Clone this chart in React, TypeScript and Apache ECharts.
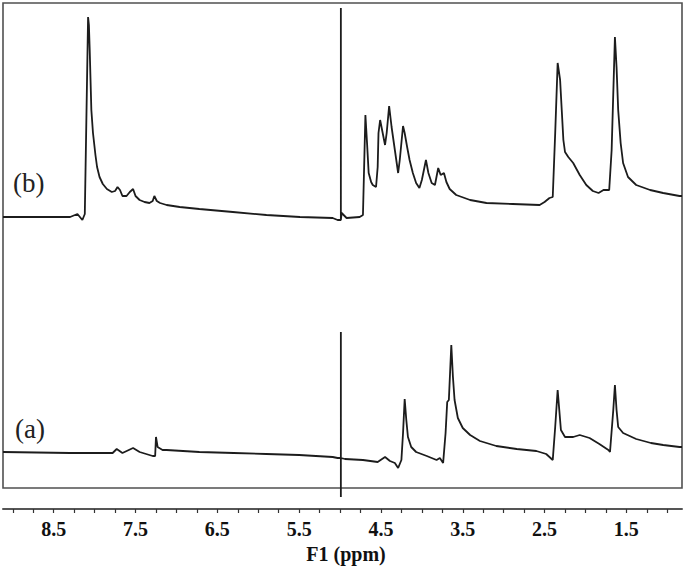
import React, { useEffect, useRef } from "react";
import * as echarts from "echarts";

// x-axis range (ppm, reversed)
const X_MIN = 0.82;
const X_MAX = 9.12;
const TICK_LABELS = [8.5, 7.5, 6.5, 5.5, 4.5, 3.5, 2.5, 1.5];
const TICK_MARKS = [
  9.0, 8.75, 8.5, 8.25, 8.0, 7.75, 7.5, 7.25, 7.0, 6.75, 6.5, 6.25, 6.0, 5.75,
  5.5, 5.25, 5.0, 4.75, 4.5, 4.25, 4.0, 3.75, 3.5, 3.25, 3.0, 2.75, 2.5, 2.25,
  2.0, 1.75, 1.5, 1.25, 1.0,
];
const AXIS_NAME = "F1 (ppm)";
const TRACE_LABELS = ["(a)", "(b)"];

// spectrum (a): [ppm, intensity]
const SPECTRUM_A: [number, number][] = [
  [9.12, 0], [8.3, -1], [7.78, -1], [7.73, 3], [7.66, -1], [7.53, 4],
  [7.45, 0], [7.29, -4], [7.26, -4], [7.25, 15], [7.23, 5], [7.17, 2],
  [7.12, 2], [6.72, 0], [6.3, -1], [5.9, -2], [5.5, -3], [5.09, -5],
  [5.03, -6], [4.99, -6], [4.99, 120], [4.99, -45], [4.99, -6], [4.94, -7],
  [4.72, -8], [4.54, -10], [4.45, -5], [4.39, -9], [4.33, -11], [4.29, -16],
  [4.25, -8], [4.23, 19], [4.21, 53], [4.19, 32], [4.17, 15], [4.13, 5],
  [4.07, 0], [3.94, -4], [3.82, -8], [3.78, -6], [3.74, -11], [3.71, 19],
  [3.69, 50], [3.67, 52], [3.64, 107], [3.62, 75], [3.6, 52], [3.56, 34],
  [3.5, 24], [3.41, 17], [3.29, 11], [3.09, 6], [2.84, 3], [2.6, 1],
  [2.48, -2], [2.4, -8], [2.37, 25], [2.34, 62], [2.32, 42], [2.3, 22],
  [2.25, 15], [2.15, 15], [2.07, 17], [1.95, 14], [1.83, 8], [1.72, 2],
  [1.7, 0], [1.66, 42], [1.64, 67], [1.62, 42], [1.6, 25], [1.54, 19],
  [1.38, 13], [1.2, 9], [1.05, 7], [0.85, 5], [0.82, 5],
];

// spectrum (b): [ppm, intensity]
const SPECTRUM_B: [number, number][] = [
  [9.12, 0], [8.3, 0], [8.21, 3], [8.15, -3], [8.12, 3], [8.08, 200],
  [8.07, 192], [8.06, 167], [8.05, 137], [8.04, 107], [8.02, 84], [7.99, 62],
  [7.97, 50], [7.94, 40], [7.9, 33], [7.85, 28], [7.79, 25], [7.75, 26],
  [7.72, 30], [7.69, 27], [7.66, 21], [7.61, 21], [7.57, 25], [7.53, 28],
  [7.5, 21], [7.45, 17], [7.39, 15], [7.33, 14], [7.29, 16], [7.27, 21],
  [7.24, 16], [7.2, 14], [7.12, 12], [6.96, 10], [6.72, 8], [6.31, 5],
  [5.9, 2], [5.49, 0], [5.09, -1], [5.03, -3], [4.99, -3], [4.99, 209],
  [4.99, -3], [4.98, 4], [4.92, -1], [4.76, 0], [4.72, 2], [4.69, 102],
  [4.67, 74], [4.65, 44], [4.62, 35], [4.6, 32], [4.56, 30], [4.54, 50],
  [4.53, 84], [4.51, 97], [4.45, 72], [4.43, 84], [4.4, 111], [4.37, 90],
  [4.33, 67], [4.29, 44], [4.27, 57], [4.23, 91], [4.21, 84], [4.18, 70],
  [4.15, 57], [4.11, 44], [4.07, 34], [4.03, 29], [4.0, 37], [3.95, 57],
  [3.92, 44], [3.88, 34], [3.84, 32], [3.8, 49], [3.77, 42], [3.73, 44],
  [3.7, 35], [3.66, 28], [3.58, 22], [3.41, 17], [3.21, 14], [2.89, 13],
  [2.56, 12], [2.5, 15], [2.44, 19], [2.4, 20], [2.37, 84], [2.34, 154],
  [2.31, 137], [2.29, 107], [2.27, 77], [2.25, 65], [2.21, 60], [2.15, 54],
  [2.07, 42], [1.99, 32], [1.91, 26], [1.84, 24], [1.78, 27], [1.71, 27],
  [1.68, 67], [1.64, 180], [1.62, 150], [1.6, 107], [1.57, 74], [1.54, 54],
  [1.48, 40], [1.38, 32], [1.21, 27], [1.05, 24], [0.85, 21], [0.82, 21],
];

const OFFSET_B = 235;

export default function App() {
  const ref = useRef<HTMLDivElement>(null);

  useEffect(() => {
    if (!ref.current) return;
    const chart = echarts.init(ref.current, undefined, { renderer: "svg" });
    const lineColor = "#1c1c1c";
    const serif = '"Liberation Serif", "Times New Roman", serif';

    chart.setOption({
      animation: false,
      backgroundColor: "#ffffff",
      grid: {
        left: 3,
        right: 3,
        top: 3,
        bottom: 84,
        show: true,
        borderColor: "#505050",
        borderWidth: 1.6,
      },
      xAxis: {
        type: "value",
        min: X_MIN,
        max: X_MAX,
        inverse: true,
        offset: 21,
        splitLine: { show: false },
        axisLine: {
          show: true,
          onZero: false,
          lineStyle: { color: "#555", width: 2 },
        },
        axisTick: {
          show: true,
          length: 4,
          customValues: TICK_MARKS,
          lineStyle: { color: "#333", width: 1.2 },
        },
        axisLabel: {
          customValues: TICK_LABELS,
          formatter: (v: number) => v.toFixed(1),
          margin: 10,
          fontFamily: serif,
          fontWeight: "bold",
          fontSize: 20,
          color: "#111",
        },
        name: AXIS_NAME,
        nameLocation: "middle",
        nameGap: 33,
        nameTextStyle: {
          fontFamily: serif,
          fontWeight: "bold",
          fontSize: 20,
          color: "#111",
          padding: [0, 0, 0, 7],
        },
      },
      yAxis: {
        type: "value",
        min: -36,
        max: 449,
        show: false,
      },
      series: [
        {
          type: "line",
          name: TRACE_LABELS[0],
          data: SPECTRUM_A,
          showSymbol: false,
          clip: false,
          lineStyle: { color: lineColor, width: 1.8 },
        },
        {
          type: "line",
          name: TRACE_LABELS[1],
          data: SPECTRUM_B.map(([x, y]) => [x, y + OFFSET_B]),
          showSymbol: false,
          clip: false,
          lineStyle: { color: lineColor, width: 1.8 },
        },
      ],
      graphic: [
        {
          type: "text",
          left: 13,
          top: 169,
          style: { text: TRACE_LABELS[1], font: "27px " + serif, fill: "#222" },
        },
        {
          type: "text",
          left: 15,
          top: 415,
          style: { text: TRACE_LABELS[0], font: "27px " + serif, fill: "#222" },
        },
      ],
    });

    return () => chart.dispose();
  }, []);

  return (
    <div
      ref={ref}
      style={{ position: "absolute", left: 0, top: 0, width: 685, height: 572 }}
    />
  );
}
